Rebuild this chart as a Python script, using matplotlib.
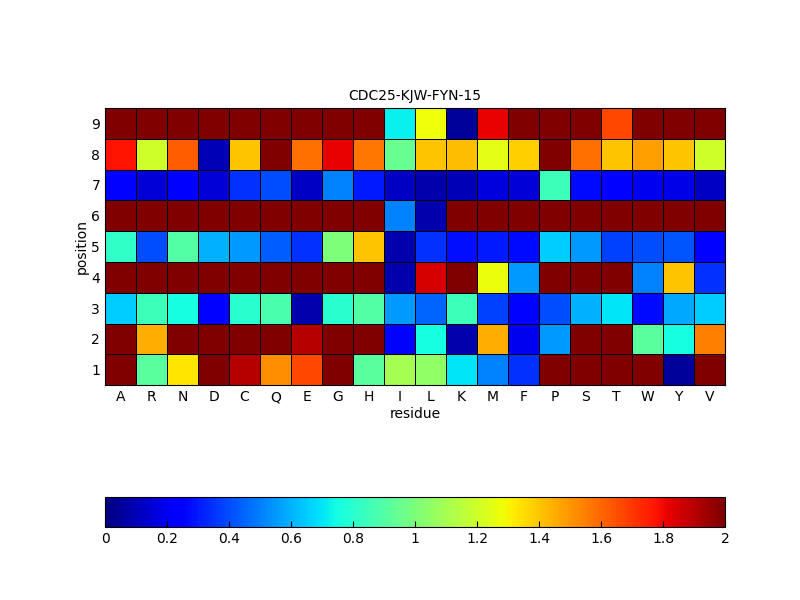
import numpy as np
import matplotlib
matplotlib.use('Agg')
import matplotlib.pyplot as plt

residues = ['A', 'R', 'N', 'D', 'C', 'Q', 'E', 'G', 'H', 'I', 'L', 'K', 'M', 'F', 'P', 'S', 'T', 'W', 'Y', 'V']
positions = [1, 2, 3, 4, 5, 6, 7, 8, 9]

# rows: position 1 .. 9
pos1 = [2, 0.92, 1.33, 2, 1.9, 1.52, 1.67, 2, 0.92, 1.1, 1.05, 0.7, 0.5, 0.35, 2, 2, 2, 2, 0.05, 2]
pos2 = [2, 1.45, 2, 2, 2, 2, 1.9, 2, 2, 0.25, 0.75, 0.08, 1.45, 0.2, 0.55, 2, 2, 0.92, 0.75, 1.55]
pos3 = [0.65, 0.85, 0.75, 0.25, 0.8, 0.88, 0.08, 0.8, 0.9, 0.55, 0.45, 0.85, 0.38, 0.25, 0.4, 0.6, 0.7, 0.27, 0.58, 0.65]
pos4 = [2, 2, 2, 2, 2, 2, 2, 2, 2, 0.08, 1.85, 2, 1.27, 0.55, 2, 2, 2, 0.5, 1.4, 0.35]
pos5 = [0.82, 0.4, 0.9, 0.6, 0.55, 0.43, 0.35, 1.0, 1.4, 0.08, 0.35, 0.28, 0.3, 0.27, 0.65, 0.55, 0.38, 0.4, 0.42, 0.25]
pos6 = [2, 2, 2, 2, 2, 2, 2, 2, 2, 0.5, 0.08, 2, 2, 2, 2, 2, 2, 2, 2, 2]
pos7 = [0.25, 0.15, 0.23, 0.15, 0.35, 0.4, 0.12, 0.5, 0.3, 0.12, 0.08, 0.1, 0.17, 0.15, 0.85, 0.27, 0.25, 0.2, 0.18, 0.12]
pos8 = [1.78, 1.2, 1.62, 0.1, 1.4, 2, 1.58, 1.82, 1.57, 0.95, 1.4, 1.42, 1.25, 1.38, 2, 1.58, 1.4, 1.48, 1.4, 1.2]
pos9 = [2, 2, 2, 2, 2, 2, 2, 2, 2, 0.72, 1.28, 0.05, 1.82, 2, 2, 2, 1.67, 2, 2, 2]

data = np.array([pos1, pos2, pos3, pos4, pos5, pos6, pos7, pos8, pos9])

fig = plt.figure(figsize=(8, 6), dpi=100)
ax = fig.add_axes([0.13125, 0.358, 0.775, 0.462])
mesh = ax.pcolormesh(np.arange(len(residues) + 1) + 0.5, np.arange(len(positions) + 1) + 0.5,
                     data, cmap='jet', vmin=0, vmax=2, edgecolor='black', linewidth=0.5)
ax.set_xticks(np.arange(1, len(residues) + 1))
ax.set_xticklabels(residues)
ax.set_yticks(positions)
ax.tick_params(length=0, labelsize=10)
ax.set_xlabel('residue', fontsize=10, labelpad=2)
ax.set_ylabel('position', fontsize=10, labelpad=2)
ax.set_title('CDC25-KJW-FYN-15', fontsize=10)

cax = fig.add_axes([0.13125, 0.122, 0.775, 0.05])
cb = fig.colorbar(mesh, cax=cax, orientation='horizontal')
cb.set_ticks([0, 0.2, 0.4, 0.6, 0.8, 1, 1.2, 1.4, 1.6, 1.8, 2])
cb.set_ticklabels(['0', '0.2', '0.4', '0.6', '0.8', '1', '1.2', '1.4', '1.6', '1.8', '2'])
cax.tick_params(labelsize=10, length=4, direction='in')

plt.savefig('out.png')
